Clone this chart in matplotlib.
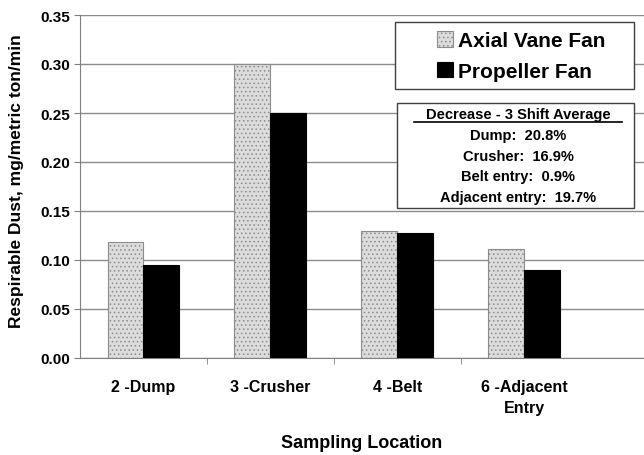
import numpy as np
import matplotlib.pyplot as plt
from matplotlib.lines import Line2D

plt.rcParams['font.family'] = ['Liberation Sans', 'DejaVu Sans']
plt.rcParams['hatch.color'] = '#9a9a9a'
plt.rcParams['hatch.linewidth'] = 0.6

locations = ['2 -Dump', '3 -Crusher', '4 -Belt', '6 -Adjacent\nEntry']
axial = [0.118, 0.300, 0.130, 0.111]
propeller = [0.095, 0.250, 0.128, 0.090]
decrease_lines = ['Dump:  20.8%', 'Crusher:  16.9%', 'Belt entry:  0.9%',
                  'Adjacent entry:  19.7%']

fig = plt.figure(figsize=(6.44, 4.56), dpi=100)
ax = fig.add_axes([80 / 644, 1 - 359 / 456, 1 - 80 / 644, 343 / 456])

x = np.arange(len(locations))
w = 0.283
ax.bar(x - w / 2, axial, w, color='#dcdcdc', edgecolor='#8c8c8c', linewidth=0.8,
       hatch='....', label='Axial Vane Fan', zorder=3)
ax.bar(x + w / 2, propeller, w, color='black', edgecolor='black', linewidth=0.8,
       label='Propeller Fan', zorder=3)

ax.set_xlim(-0.5, 3.945)
ax.set_ylim(0, 0.35)
ax.set_yticks(np.arange(0, 0.351, 0.05))
ax.set_yticklabels(['%.2f' % v for v in np.arange(0, 0.351, 0.05)],
                   fontsize=11, fontweight='bold')
ax.set_xticks(x)
ax.set_xticklabels(locations, fontsize=11.5, fontweight='bold', linespacing=1.5)
ax.set_xticks(x[:-1] + 0.5, minor=True)
ax.tick_params(axis='x', which='major', length=0, pad=15)
ax.tick_params(axis='x', which='minor', length=4, color='#808080', direction='out')
ax.tick_params(axis='y', length=4, color='#808080', direction='out', pad=3)
ax.yaxis.grid(True, color='#8c8c8c', linewidth=1.0, zorder=0)
ax.set_axisbelow(True)
for s in ['top', 'right']:
    ax.spines[s].set_visible(False)
ax.spines['left'].set_color('#808080')
ax.spines['bottom'].set_color('#808080')

ax.set_ylabel('Respirable Dust, mg/metric ton/min', fontsize=12.5, fontweight='bold')
ax.yaxis.set_label_coords((24 - 80) / 564, (359 - 181) / 343)
ax.set_xlabel('Sampling Location', fontsize=13, fontweight='bold', labelpad=14)

# legend box
lbox = plt.Rectangle((395 / 644, 1 - 90 / 456), 239 / 644, 67 / 456,
                     transform=fig.transFigure, facecolor='white',
                     edgecolor='#404040', linewidth=1.0, zorder=4, clip_on=False)
ax.add_patch(lbox)
leg = ax.legend(loc='center', bbox_to_anchor=(521 / 644, 1 - 57 / 456),
                bbox_transform=fig.transFigure, prop={'weight': 'bold', 'size': 15},
                frameon=False, handlelength=0.75, handleheight=0.75,
                handletextpad=0.25, labelspacing=0.55, borderaxespad=0)
leg.set_zorder(5)

# text box with decrease percentages
box = plt.Rectangle((397 / 644, 1 - 209 / 456), 237 / 644, 105 / 456,
                    transform=fig.transFigure, facecolor='white',
                    edgecolor='#404040', linewidth=1.0, zorder=5)
fig.patches.append(box)
cx = 518 / 644
fig.text(cx, 1 - 115 / 456, 'Decrease - 3 Shift Average', ha='center', va='center',
         fontsize=10.5, fontweight='bold', zorder=6)
fig.lines.append(Line2D([414 / 644, 622 / 644], [1 - 122.5 / 456, 1 - 122.5 / 456],
                        transform=fig.transFigure, color='black', linewidth=1.2,
                        zorder=7))
for i, t in enumerate(decrease_lines):
    fig.text(cx, 1 - (136 + 20.7 * i) / 456, t, ha='center', va='center',
             fontsize=10.5, fontweight='bold', zorder=6)

fig.savefig('out.png', dpi=100)
